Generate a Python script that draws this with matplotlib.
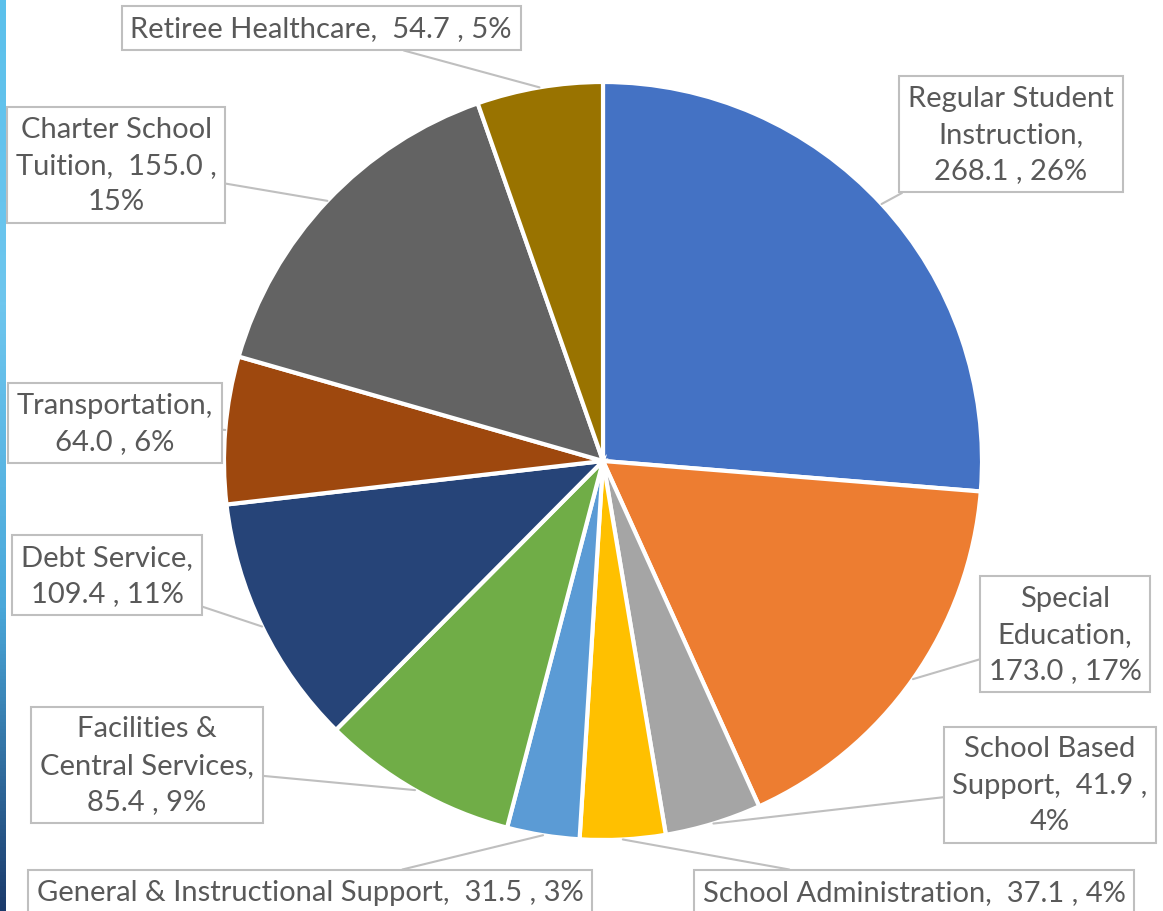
import matplotlib.pyplot as plt
import numpy as np

# spending by category ($M), clockwise from 12 o'clock
categories = [
    "Regular Student Instruction", "Special Education", "School Based Support",
    "School Administration", "General & Instructional Support",
    "Facilities & Central Services", "Debt Service", "Transportation",
    "Charter School Tuition", "Retiree Healthcare",
]
values = [268.1, 173.0, 41.9, 37.1, 31.5, 85.4, 109.4, 64.0, 155.0, 54.7]
labels = [
    "Regular Student\nInstruction,\n268.1 , 26%",
    "Special\nEducation,\n173.0 , 17%",
    "School Based\nSupport,  41.9 ,\n4%",
    "School Administration,  37.1 , 4%",
    "General & Instructional Support,  31.5 , 3%",
    "Facilities &\nCentral Services,\n85.4 , 9%",
    "Debt Service,\n109.4 , 11%",
    "Transportation,\n64.0 , 6%",
    "Charter School\nTuition,  155.0 ,\n15%",
    "Retiree Healthcare,  54.7 , 5%",
]
colors = ["#4472C4", "#ED7D31", "#A5A5A5", "#FFC000", "#5B9BD5",
          "#70AD47", "#264478", "#9E480E", "#636363", "#997300"]

# label box centres in pixel space (y measured from top)
label_pos = [(1011, 135), (1065, 635), (1050, 786), (914, 893), (310, 893),
             (147, 766), (107, 576), (115, 424), (116, 166), (321, 29)]

W, H = 1163, 912
cx, cy, R = 603, H - 462, 379

fig = plt.figure(figsize=(W / 100, H / 100), dpi=100)
ax = fig.add_axes([0, 0, 1, 1])

# thin slide-background strip on the left edge
strip = fig.add_axes([0, 0, 6 / W, 1])
grad = np.linspace(0, 1, 256).reshape(-1, 1)
strip.imshow(grad, aspect="auto", cmap=plt.matplotlib.colors.LinearSegmentedColormap.from_list(
    "bg", ["#5BC0EB", "#6EC6EE", "#4AA8DA", "#1B3A6B"]), extent=[0, 1, 0, 1], origin="upper")
strip.axis("off")

wedges, _ = ax.pie(values, colors=colors, startangle=90, counterclock=False,
                   center=(cx, cy), radius=R, frame=True,
                   wedgeprops=dict(edgecolor="white", linewidth=3))
ax.set_xlim(0, W)
ax.set_ylim(0, H)
ax.set_aspect("equal")
ax.axis("off")

for w, lab, (lx, ly) in zip(wedges, labels, label_pos):
    ang = np.deg2rad((w.theta1 + w.theta2) / 2)
    px = cx + R * np.cos(ang)
    py = cy + R * np.sin(ang)
    ax.annotate(lab, xy=(px, py), xytext=(lx, H - ly), ha="center", va="center",
                fontsize=21, family="Lato", color="#595959", linespacing=1.5,
                bbox=dict(boxstyle="square,pad=0.3", fc="white", ec="#BFBFBF", lw=1.5),
                arrowprops=dict(arrowstyle="-", color="#BFBFBF", lw=1.5,
                                shrinkA=0, shrinkB=0))

fig.savefig("out.png", dpi=100)
